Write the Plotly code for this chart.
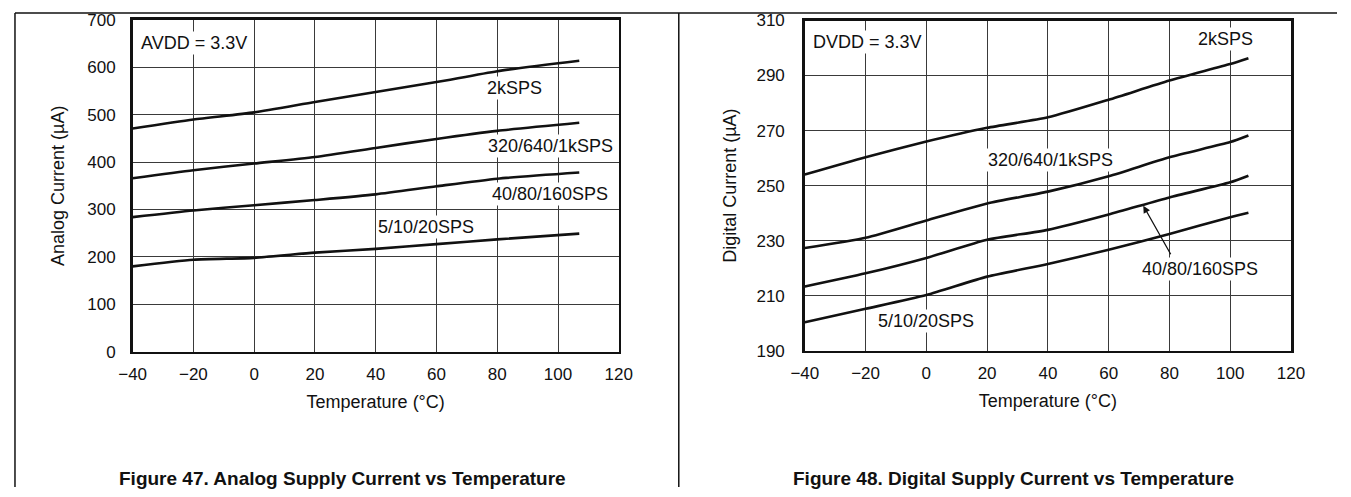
import plotly.graph_objects as go

# The page body margin is removed (post_script), so the figure fills the window.
W, H = 1351, 497
# The returned picture maps page pixels as  pic = A + S * page  (measured),
# so reference pixel positions are converted back to page pixels.
AX, SX = 14.4, 0.979
AY, SY = 9.0, 0.96

# ---------------- data ----------------
analog_temp = [-40, -20, 0, 20, 40, 60, 80, 107]
analog_2k = [471, 490, 505, 527, 548, 569, 592, 614]
analog_320 = [366, 383, 397, 411, 430, 449, 466, 483]
analog_40 = [284, 298, 309, 320, 332, 349, 365, 378]
analog_5 = [180, 194, 198, 209, 217, 227, 237, 249]

digital_temp = [-40, -20, 0, 20, 40, 60, 80, 100, 106]
digital_2k = [254.0, 260.3, 266.0, 271.0, 274.8, 281.2, 288.2, 294.2, 296.3]
digital_320 = [227.3, 231.0, 237.3, 243.5, 247.8, 253.4, 260.3, 265.8, 268.2]
digital_40 = [213.3, 218.1, 223.7, 230.3, 233.9, 239.5, 245.7, 251.2, 253.6]
digital_5 = [200.3, 205.2, 210.2, 216.9, 221.5, 226.7, 232.4, 238.5, 240.1]

x_ticks = [-40, -20, 0, 20, 40, 60, 80, 100, 120]
analog_ticks = [0, 100, 200, 300, 400, 500, 600, 700]
digital_ticks = [190, 210, 230, 250, 270, 290, 310]

FONT = "Liberation Sans, Arial, Helvetica, sans-serif"
FS_TICK = 17
FS = 18


def page_x(r):
    return min(max((r - AX) / SX, 1.0), W - 1.0)


def page_y(r):
    return min(max((r - AY) / SY, 1.0), H - 1.0)


def px_x(r):
    return page_x(r) / W


def px_y(r):
    return 1 - page_y(r) / H


fig = go.Figure()

line_style = dict(color="#111111", width=2.6, shape="spline", smoothing=0.6)
for ys in (analog_2k, analog_320, analog_40, analog_5):
    fig.add_trace(go.Scatter(x=analog_temp, y=ys, mode="lines", line=line_style,
                             xaxis="x", yaxis="y", showlegend=False, hoverinfo="skip"))
for ys in (digital_2k, digital_320, digital_40, digital_5):
    fig.add_trace(go.Scatter(x=digital_temp, y=ys, mode="lines", line=line_style,
                             xaxis="x2", yaxis="y2", showlegend=False, hoverinfo="skip"))

common_axis = dict(
    showgrid=True, gridcolor="#3a3a3a", gridwidth=1,
    showline=True, linecolor="#111111", linewidth=2.6, mirror=True,
    zeroline=False, ticks="", tickfont=dict(family=FONT, size=FS_TICK, color="#111"),
    fixedrange=True,
)

xa = dict(common_axis, range=[-40, 120], tickvals=x_ticks, ticklabelstandoff=5,
          title=dict(text="Temperature (°C)", font=dict(family=FONT, size=FS, color="#111"), standoff=13))

fig.update_layout(
    width=W, height=H,
    margin=dict(l=0, r=0, t=0, b=0),
    paper_bgcolor="white", plot_bgcolor="white",
    font=dict(family=FONT, size=FS, color="#111"),
    xaxis=dict(xa, domain=[px_x(133), px_x(619)], anchor="y"),
    yaxis=dict(common_axis, range=[0, 700], tickvals=analog_ticks, ticklabelstandoff=11,
               domain=[px_y(351), px_y(20)], anchor="x",
               title=dict(text="Analog Current (µA)", font=dict(family=FONT, size=FS, color="#111"), standoff=18)),
    xaxis2=dict(xa, domain=[px_x(805), px_x(1291)], anchor="y2"),
    yaxis2=dict(common_axis, range=[190, 310], tickvals=digital_ticks, ticklabelstandoff=14,
                domain=[px_y(350), px_y(20.5)], anchor="x2",
                title=dict(text="Digital Current (µA)", font=dict(family=FONT, size=FS, color="#111"), standoff=15)),
)

# curve labels (data coordinates)
labels = [
    ("x", "y", -19.9, 651, "AVDD = 3.3V"),
    ("x", "y", 85.6, 556, "2kSPS"),
    ("x", "y", 97.4, 433.5, "320/640/1kSPS"),
    ("x", "y", 97.4, 332, "40/80/160SPS"),
    ("x", "y", 56.6, 264, "5/10/20SPS"),
    ("x2", "y2", -19.4, 302.1, "DVDD = 3.3V"),
    ("x2", "y2", 98.6, 303.3, "2kSPS"),
    ("x2", "y2", 40.7, 259.2, "320/640/1kSPS"),
    ("x2", "y2", 90.0, 219.5, "40/80/160SPS"),
    ("x2", "y2", 0.0, 200.7, "5/10/20SPS"),
]
for xr, yr, xv, yv, txt in labels:
    fig.add_annotation(x=xv, y=yv, xref=xr, yref=yr, text=txt, showarrow=False,
                       xanchor="center", yanchor="middle",
                       font=dict(family=FONT, size=FS, color="#111"),
                       bgcolor="white", borderpad=1)

# arrow pointing to the 40/80/160SPS curve
fig.add_annotation(x=71.4, y=242.7, ax=80.7, ay=224.5, xref="x2", yref="y2",
                   axref="x2", ayref="y2", text="", showarrow=True,
                   arrowhead=2, arrowsize=1.1, arrowwidth=1.3, arrowcolor="#111")

# figure captions
cap_y = 1 - 488 / H
fig.add_annotation(x=px_x(343), y=cap_y, xref="paper", yref="paper",
                   xanchor="center", yanchor="middle",
                   text="<b>Figure 47. Analog Supply Current vs Temperature</b>", showarrow=False,
                   font=dict(family=FONT, size=19, color="#111"))
fig.add_annotation(x=px_x(1014), y=cap_y, xref="paper", yref="paper",
                   xanchor="center", yanchor="middle",
                   text="<b>Figure 48. Digital Supply Current vs Temperature</b>", showarrow=False,
                   font=dict(family=FONT, size=19, color="#111"))

# panel frame lines
frame = dict(color="#111111", width=1.5)
fig.add_shape(type="line", xref="paper", yref="paper", x0=px_x(8), x1=px_x(8), y0=0, y1=px_y(13), line=frame)
fig.add_shape(type="line", xref="paper", yref="paper", x0=px_x(679), x1=px_x(679), y0=0, y1=px_y(13), line=frame)
fig.add_shape(type="line", xref="paper", yref="paper", x0=px_x(8), x1=1, y0=px_y(13), y1=px_y(13), line=frame)

fig.write_html("out.html", config={"displayModeBar": False, "staticPlot": True},
               post_script="document.body.style.margin='0';document.body.style.overflow='hidden';")
